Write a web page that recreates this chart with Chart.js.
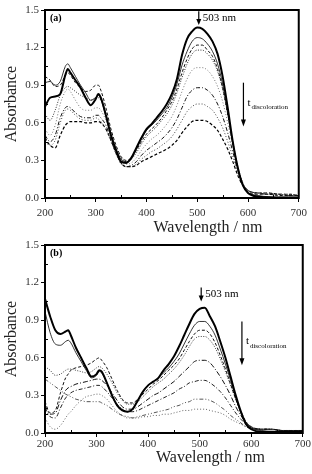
<!DOCTYPE html>
<html><head><meta charset="utf-8">
<script src="https://cdn.jsdelivr.net/npm/chart.js@4"></script>
<style>
html,body{margin:0;padding:0;background:#fff;}
#wrap{position:relative;width:312px;height:474px;}
canvas{position:absolute;left:0;}
</style></head><body>
<div id="wrap">
<canvas id="ca" width="312" height="237" style="top:0"></canvas>
<canvas id="cb" width="312" height="237" style="top:235px"></canvas>
</div>
<script>
// Wavelengths (nm)
const wavelengths = [200,210,220,230,240,245,250,260,270,280,290,300,305,310,320,330,340,350,360,370,380,390,400,410,420,430,440,450,460,470,480,490,500,510,520,530,540,550,560,570,580,590,600,620,640,660,680,700];
const xTicks = [200,300,400,500,600,700];
const yTicks = [0.0,0.3,0.6,0.9,1.2,1.5];

// Panel (a) absorbance series
const a1 = [0.73,0.80,0.81,0.83,0.98,1.03,1.00,0.94,0.88,0.80,0.74,0.79,0.83,0.80,0.66,0.50,0.38,0.29,0.28,0.32,0.40,0.48,0.55,0.59,0.64,0.69,0.75,0.83,0.95,1.14,1.27,1.33,1.36,1.35,1.31,1.25,1.15,0.97,0.72,0.45,0.24,0.10,0.04,0.01,0.005,0.0,0.0,0.0];
const a2 = [0.92,0.93,0.90,0.93,1.05,1.07,1.04,0.97,0.90,0.84,0.78,0.80,0.82,0.79,0.65,0.50,0.39,0.31,0.29,0.31,0.39,0.47,0.54,0.58,0.62,0.67,0.72,0.80,0.91,1.06,1.17,1.25,1.28,1.27,1.23,1.17,1.07,0.91,0.68,0.43,0.23,0.10,0.04,0.02,0.01,0.01,0.01,0.01];
const a3 = [0.97,0.94,0.89,0.90,0.98,1.00,0.98,0.92,0.88,0.85,0.86,0.90,0.90,0.86,0.72,0.55,0.42,0.33,0.30,0.32,0.38,0.45,0.51,0.55,0.59,0.64,0.70,0.77,0.87,1.00,1.11,1.19,1.22,1.22,1.18,1.13,1.03,0.88,0.67,0.44,0.24,0.11,0.05,0.03,0.03,0.02,0.02,0.02];
const a4 = [0.67,0.62,0.70,0.82,0.88,0.89,0.88,0.85,0.82,0.80,0.78,0.80,0.80,0.78,0.68,0.53,0.40,0.32,0.29,0.31,0.36,0.43,0.49,0.53,0.57,0.62,0.67,0.74,0.84,0.96,1.07,1.15,1.18,1.18,1.15,1.10,1.01,0.87,0.67,0.45,0.25,0.12,0.06,0.04,0.03,0.03,0.02,0.02];
const a5 = [0.55,0.50,0.58,0.75,0.85,0.87,0.85,0.78,0.72,0.70,0.70,0.72,0.72,0.70,0.62,0.50,0.38,0.30,0.27,0.28,0.32,0.38,0.43,0.47,0.50,0.54,0.59,0.65,0.74,0.85,0.95,1.02,1.04,1.04,1.02,0.97,0.89,0.77,0.60,0.41,0.23,0.11,0.06,0.04,0.03,0.03,0.02,0.02];
const a6 = [0.50,0.45,0.50,0.64,0.72,0.73,0.72,0.68,0.65,0.64,0.64,0.66,0.66,0.64,0.58,0.47,0.36,0.28,0.25,0.26,0.29,0.34,0.38,0.41,0.44,0.47,0.51,0.56,0.63,0.72,0.81,0.86,0.88,0.88,0.86,0.82,0.75,0.65,0.52,0.37,0.22,0.11,0.06,0.04,0.03,0.03,0.02,0.02];
const a7 = [0.45,0.42,0.46,0.60,0.70,0.71,0.70,0.66,0.63,0.62,0.62,0.64,0.63,0.61,0.55,0.45,0.35,0.27,0.25,0.25,0.27,0.31,0.34,0.37,0.39,0.42,0.45,0.49,0.55,0.62,0.69,0.73,0.75,0.75,0.73,0.70,0.64,0.56,0.45,0.33,0.20,0.10,0.06,0.04,0.04,0.03,0.03,0.02];
const a8 = [0.48,0.42,0.40,0.50,0.58,0.60,0.61,0.61,0.61,0.60,0.60,0.61,0.61,0.60,0.55,0.46,0.36,0.28,0.25,0.25,0.26,0.29,0.31,0.33,0.35,0.37,0.39,0.42,0.46,0.52,0.57,0.61,0.62,0.62,0.61,0.58,0.54,0.47,0.39,0.29,0.18,0.10,0.06,0.04,0.04,0.03,0.03,0.02];

// Panel (b) absorbance series
const b1 = [1.07,0.93,0.82,0.79,0.81,0.82,0.78,0.68,0.60,0.52,0.45,0.47,0.50,0.49,0.40,0.30,0.22,0.18,0.17,0.19,0.26,0.33,0.38,0.41,0.44,0.50,0.55,0.61,0.69,0.78,0.87,0.95,0.99,1.00,0.93,0.85,0.73,0.60,0.45,0.30,0.17,0.07,0.03,0.01,0.01,0.01,0.01,0.01];
const b2 = [0.97,0.80,0.71,0.70,0.73,0.74,0.72,0.64,0.57,0.50,0.44,0.46,0.49,0.48,0.40,0.30,0.22,0.18,0.17,0.19,0.26,0.33,0.38,0.41,0.44,0.48,0.52,0.57,0.63,0.71,0.79,0.86,0.89,0.89,0.85,0.78,0.67,0.55,0.42,0.28,0.16,0.08,0.04,0.02,0.01,0.01,0.01,0.01];
const b3 = [0.25,0.16,0.18,0.32,0.44,0.47,0.50,0.52,0.53,0.54,0.56,0.59,0.60,0.58,0.52,0.43,0.34,0.27,0.24,0.24,0.27,0.31,0.35,0.39,0.42,0.46,0.50,0.54,0.59,0.66,0.73,0.79,0.82,0.82,0.79,0.72,0.62,0.51,0.39,0.27,0.17,0.09,0.05,0.03,0.03,0.02,0.02,0.02];
const b4 = [0.53,0.50,0.46,0.47,0.50,0.51,0.51,0.50,0.49,0.48,0.49,0.52,0.53,0.52,0.47,0.40,0.32,0.26,0.23,0.23,0.25,0.29,0.33,0.37,0.40,0.43,0.47,0.51,0.56,0.62,0.69,0.75,0.77,0.77,0.74,0.68,0.59,0.49,0.38,0.27,0.17,0.09,0.05,0.03,0.03,0.02,0.02,0.02];
const b5 = [0.22,0.15,0.16,0.26,0.34,0.36,0.37,0.39,0.40,0.41,0.42,0.43,0.43,0.42,0.38,0.32,0.26,0.21,0.19,0.19,0.21,0.24,0.27,0.30,0.32,0.35,0.38,0.41,0.45,0.49,0.53,0.57,0.58,0.58,0.56,0.51,0.45,0.38,0.30,0.21,0.14,0.08,0.05,0.03,0.03,0.02,0.02,0.02];
const b6 = [0.20,0.13,0.12,0.20,0.28,0.30,0.32,0.34,0.35,0.36,0.37,0.38,0.38,0.37,0.33,0.28,0.23,0.19,0.17,0.17,0.18,0.20,0.22,0.24,0.26,0.28,0.30,0.32,0.35,0.37,0.40,0.41,0.42,0.42,0.40,0.37,0.33,0.28,0.22,0.16,0.11,0.07,0.04,0.03,0.03,0.02,0.02,0.02];
const b7 = [0.43,0.40,0.37,0.34,0.31,0.30,0.29,0.27,0.26,0.25,0.25,0.25,0.25,0.24,0.22,0.19,0.16,0.14,0.13,0.12,0.13,0.14,0.15,0.16,0.17,0.18,0.19,0.21,0.22,0.24,0.25,0.27,0.27,0.27,0.26,0.24,0.21,0.18,0.14,0.11,0.08,0.05,0.04,0.03,0.03,0.02,0.02,0.02];
const b8 = [0.12,0.05,0.03,0.06,0.12,0.15,0.17,0.22,0.26,0.29,0.30,0.31,0.31,0.30,0.27,0.22,0.17,0.14,0.12,0.12,0.12,0.13,0.13,0.14,0.14,0.15,0.15,0.16,0.17,0.18,0.18,0.19,0.19,0.19,0.18,0.17,0.16,0.14,0.11,0.09,0.07,0.05,0.04,0.03,0.03,0.02,0.02,0.02];

const seriesA = [a1,a2,a3,a4,a5,a6,a7,a8];
const seriesB = [b1,b2,b3,b4,b5,b6,b7,b8];

const styles = [
  {w:2.0, dash:[], c:'#000'},
  {w:0.8, dash:[], c:'#000'},
  {w:1.0, dash:[3,2], c:'#111'},
  {w:1.0, dash:[1,1.5], c:'#333'},
  {w:1.0, dash:[1,2], c:'#777'},
  {w:1.0, dash:[4,2,1,2], c:'#111'},
  {w:1.0, dash:[1,2], c:'#444'},
  {w:1.2, dash:[3,2], c:'#000'}
];
const stylesB = [
  {w:2.0, dash:[], c:'#000'},
  {w:0.8, dash:[], c:'#000'},
  {w:1.0, dash:[3,2], c:'#111'},
  {w:1.0, dash:[1,1.5], c:'#444'},
  {w:1.0, dash:[5,2,1,2], c:'#111'},
  {w:1.0, dash:[4,2,1,2], c:'#222'},
  {w:1.0, dash:[4,2,1,2,1,2], c:'#555'},
  {w:1.0, dash:[1,2], c:'#666'}
];

const SERIF = '"Liberation Serif","DejaVu Serif",serif';

function makeDatasets(series, st){
  return series.map((s,i)=>({
    data: wavelengths.map((w,j)=>({x:w,y:s[j]})),
    borderColor: st[i].c, borderWidth: st[i].w, borderDash: st[i].dash,
    pointRadius:0, fill:false, cubicInterpolationMode:'monotone'
  }));
}

function annPlugin(label, arrowTop, arrowBot, tx, tTop, tBot, titleY){
  return {
    id:'ann'+label,
    afterDraw(chart){
      const ctx = chart.ctx, ca = chart.chartArea, xs = chart.scales.x, ys = chart.scales.y;
      ctx.save();
      // frame
      ctx.strokeStyle='#000'; ctx.lineWidth=2;
      ctx.strokeRect(ca.left, ca.top, ca.right-ca.left, ca.bottom-ca.top);
      // minor ticks inside
      ctx.lineWidth=1;
      ctx.beginPath();
      for (let v=0.15; v<1.5; v+=0.3){ const y=Math.round(ys.getPixelForValue(v))+0.5; ctx.moveTo(ca.left, y); ctx.lineTo(ca.left+3, y); }
      for (let v=250; v<700; v+=100){ const x=Math.round(xs.getPixelForValue(v))+0.5; ctx.moveTo(x, ca.bottom); ctx.lineTo(x, ca.bottom-3); }
      ctx.stroke();
      // x-axis title
      ctx.fillStyle='#222';
      ctx.font='16px '+SERIF; ctx.textAlign='center'; ctx.textBaseline='middle';
      ctx.fillText('Wavelength / nm', xs.getPixelForValue(521), titleY);
      // panel label
      ctx.fillStyle='#000';
      ctx.font='bold 10px '+SERIF; ctx.textBaseline='middle'; ctx.textAlign='left';
      ctx.fillText(label, ca.left+5, ca.top+8);
      function arrow(x, y1, y2, head){
        ctx.beginPath(); ctx.moveTo(x, y1); ctx.lineTo(x, y2-head+1); ctx.lineWidth=1.2; ctx.stroke();
        ctx.beginPath(); ctx.moveTo(x-2.5, y2-head); ctx.lineTo(x+2.5, y2-head); ctx.lineTo(x, y2); ctx.closePath(); ctx.fill();
      }
      // 503 nm arrow
      const ax = xs.getPixelForValue(503);
      const ay1 = ys.getPixelForValue(arrowTop), ay2 = ys.getPixelForValue(arrowBot);
      arrow(ax, ay1, ay2, 6);
      ctx.font='11px '+SERIF; ctx.textAlign='left';
      ctx.fillText('503 nm', ax+4, (ay1+ay2)/2);
      // t discoloration arrow
      const tx0 = xs.getPixelForValue(tx);
      const t1 = ys.getPixelForValue(tTop), t2 = ys.getPixelForValue(tBot);
      arrow(tx0, t1, t2, 7);
      const tm = (t1+t2)/2 - 2;
      ctx.font='11px '+SERIF;
      ctx.fillText('t', tx0+4, tm);
      ctx.font='7px '+SERIF;
      ctx.fillText('discoloration', tx0+8, tm+5);
      ctx.restore();
    }
  };
}

function makeChart(id, series, st, plugin, tickPad){
  new Chart(document.getElementById(id), {
    type:'line',
    data:{datasets: makeDatasets(series, st)},
    options:{
      responsive:false, animation:false, devicePixelRatio:1,
      layout:{padding:{top:10,right:9,left:0,bottom:0}},
      plugins:{legend:{display:false}, tooltip:{enabled:false}},
      scales:{
        x:{type:'linear', min:200, max:700,
           afterBuildTicks(s){ s.ticks = xTicks.map(v=>({value:v})); },
           afterFit(s){ s.height = 39; },
           grid:{display:true, drawOnChartArea:false, drawTicks:true, tickLength:4, color:'#000', lineWidth:1},
           border:{display:true, color:'#000', width:2},
           ticks:{font:{family:SERIF, size:11}, color:'#333', padding:tickPad, maxRotation:0},
           title:{display:false}
        },
        y:{type:'linear', min:0, max:1.5,
           afterBuildTicks(s){ s.ticks = yTicks.map(v=>({value:v})); },
           afterFit(s){ s.width = 45; },
           grid:{display:true, drawOnChartArea:false, drawTicks:true, tickLength:4, color:'#000', lineWidth:1},
           border:{display:true, color:'#000', width:2},
           ticks:{font:{family:SERIF, size:11}, color:'#333', padding:2, callback:v=>Number(v).toFixed(1)},
           title:{display:true, text:'Absorbance', font:{family:SERIF, size:16}, color:'#222', padding:{top:2,bottom:2}}
        }
      }
    },
    plugins:[plugin]
  });
}

makeChart('ca', seriesA, styles, annPlugin('(a)', 1.49, 1.38, 591, 0.92, 0.57, 228), 5);
makeChart('cb', seriesB, stylesB, annPlugin('(b)', 1.16, 1.05, 582, 0.89, 0.54, 223), 1);
</script>
</body></html>
